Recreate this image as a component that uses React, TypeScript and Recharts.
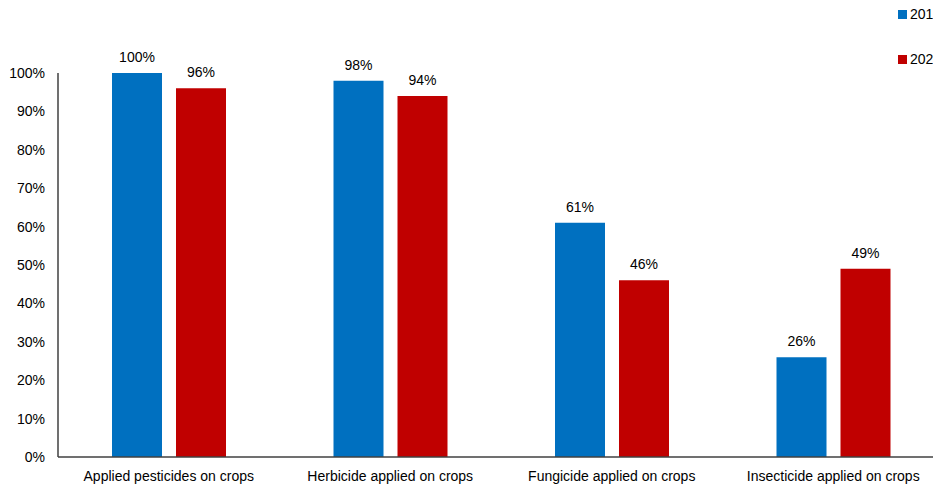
import React from 'react';
import { BarChart, Bar, XAxis, YAxis, LabelList } from 'recharts';

const categories = [
  'Applied pesticides on crops',
  'Herbicide applied on crops',
  'Fungicide applied on crops',
  'Insecticide applied on crops',
];
const series2019 = [100, 98, 61, 26];
const series2020 = [96, 94, 46, 49];
const yTicks = [0, 10, 20, 30, 40, 50, 60, 70, 80, 90, 100];
const seriesNames = ['201', '202'];
const colors = ['#0070C0', '#C00000'];

const data = categories.map((c, i) => ({ name: c, a: series2019[i], b: series2020[i] }));

const FONT = 'Liberation Sans, Arial, sans-serif';

export default function App() {
  return (
    <div style={{ width: 933, height: 487, overflow: 'hidden', position: 'relative', background: '#fff' }}>
      <style>{'html,body{overflow:hidden;margin:0;padding:0;}'}</style>
      <div style={{ position: 'absolute', left: 898, top: 4, fontFamily: FONT, fontSize: 14, color: '#000', whiteSpace: 'nowrap', zIndex: 2 }}>
        {seriesNames.map((n, i) => (
          <div key={n} style={{ display: 'flex', alignItems: 'center', height: 20, marginTop: i === 0 ? 0 : 25 }}>
            <span style={{ display: 'inline-block', width: 9, height: 9, background: colors[i], marginRight: 3 }} />
            <span>{n}</span>
          </div>
        ))}
      </div>
      <div style={{ position: 'absolute', left: 8, top: 8 }}>
        <BarChart
          width={945}
          height={479}
          data={data}
          margin={{ top: 65, right: 9, left: 0, bottom: 0 }}
          barSize={50}
          barGap={14}
        >
          <XAxis
            dataKey="name"
            tickLine={false}
            axisLine={{ stroke: '#404040', strokeWidth: 1.5 }}
            tick={{ fill: '#000', fontSize: 14, fontFamily: FONT }}
            tickMargin={8}
            height={30}
            interval={0}
          />
          <YAxis
            domain={[0, 100]}
            ticks={yTicks}
            tickFormatter={(v: number) => `${v}%`}
            tickLine={false}
            axisLine={{ stroke: '#404040', strokeWidth: 1.5 }}
            tick={{ fill: '#000', fontSize: 14, fontFamily: FONT }}
            tickMargin={7}
            width={50}
          />
          <Bar dataKey="a" name={seriesNames[0]} fill={colors[0]} isAnimationActive={false}>
            <LabelList dataKey="a" position="top" offset={11} formatter={(v: number) => `${v}%`} style={{ fill: '#000', fontSize: 14, fontFamily: FONT }} />
          </Bar>
          <Bar dataKey="b" name={seriesNames[1]} fill={colors[1]} isAnimationActive={false}>
            <LabelList dataKey="b" position="top" offset={11} formatter={(v: number) => `${v}%`} style={{ fill: '#000', fontSize: 14, fontFamily: FONT }} />
          </Bar>
        </BarChart>
      </div>
    </div>
  );
}
